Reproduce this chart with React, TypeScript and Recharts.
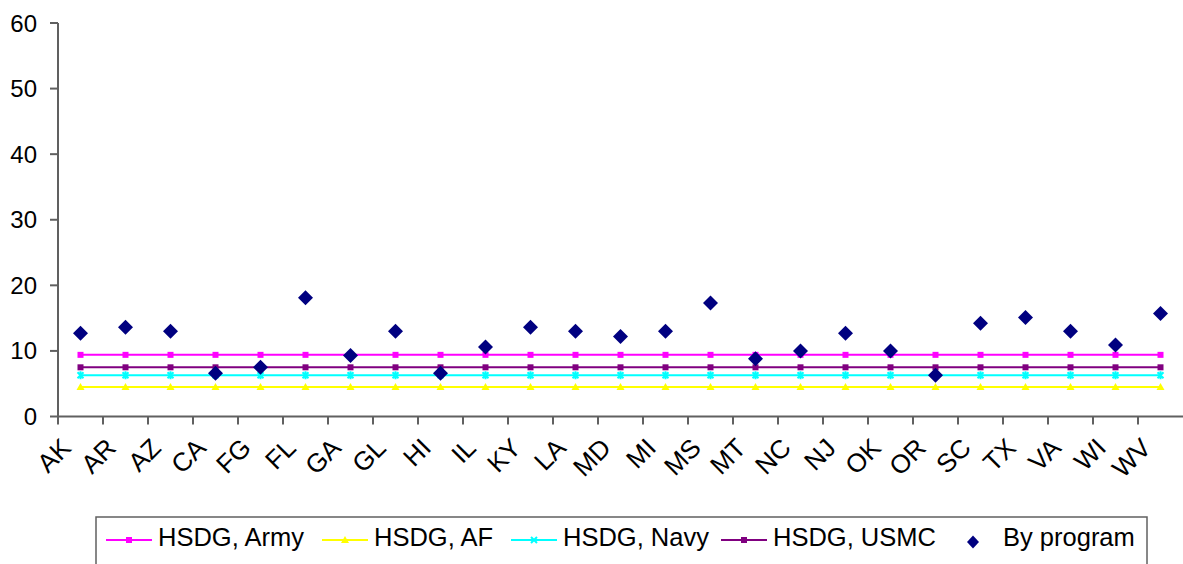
import React from 'react';
import { ComposedChart, Line, XAxis, YAxis, Legend } from 'recharts';

const categories = ['AK', 'AR', 'AZ', 'CA', 'FG', 'FL', 'GA', 'GL', 'HI', 'IL', 'KY', 'LA', 'MD', 'MI', 'MS', 'MT', 'NC', 'NJ', 'OK', 'OR', 'SC', 'TX', 'VA', 'WI', 'WV'];
const hsdgArmy = [9.4, 9.4, 9.4, 9.4, 9.4, 9.4, 9.4, 9.4, 9.4, 9.4, 9.4, 9.4, 9.4, 9.4, 9.4, 9.4, 9.4, 9.4, 9.4, 9.4, 9.4, 9.4, 9.4, 9.4, 9.4];
const hsdgAF = [4.5, 4.5, 4.5, 4.5, 4.5, 4.5, 4.5, 4.5, 4.5, 4.5, 4.5, 4.5, 4.5, 4.5, 4.5, 4.5, 4.5, 4.5, 4.5, 4.5, 4.5, 4.5, 4.5, 4.5, 4.5];
const hsdgNavy = [6.3, 6.3, 6.3, 6.3, 6.3, 6.3, 6.3, 6.3, 6.3, 6.3, 6.3, 6.3, 6.3, 6.3, 6.3, 6.3, 6.3, 6.3, 6.3, 6.3, 6.3, 6.3, 6.3, 6.3, 6.3];
const hsdgUSMC = [7.5, 7.5, 7.5, 7.5, 7.5, 7.5, 7.5, 7.5, 7.5, 7.5, 7.5, 7.5, 7.5, 7.5, 7.5, 7.5, 7.5, 7.5, 7.5, 7.5, 7.5, 7.5, 7.5, 7.5, 7.5];
const byProgram = [12.7, 13.6, 13.0, 6.6, 7.5, 18.1, 9.3, 13.0, 6.6, 10.6, 13.6, 13.0, 12.2, 13.0, 17.3, 8.8, 10.0, 12.7, 10.0, 6.3, 14.2, 15.1, 13.0, 10.9, 15.7];
const yTicks = [0, 10, 20, 30, 40, 50, 60];

const data = categories.map((state, i) => ({
  state,
  army: hsdgArmy[i],
  af: hsdgAF[i],
  navy: hsdgNavy[i],
  usmc: hsdgUSMC[i],
  program: byProgram[i],
}));

const FONT = '"Liberation Sans", Arial, sans-serif';
const AXIS = '#606060';

const SquareDot = (color: string) => (p: any) => {
  if (p.cx == null || p.cy == null) return null;
  return <rect key={p.index} x={p.cx - 3} y={p.cy - 3} width={6} height={6} fill={color} />;
};

const TriangleDot = (color: string) => (p: any) => {
  if (p.cx == null || p.cy == null) return null;
  const { cx, cy } = p;
  return <path key={p.index} d={`M${cx},${cy - 4}L${cx + 4},${cy + 3}L${cx - 4},${cy + 3}Z`} fill={color} />;
};

const StarDot = (color: string) => (p: any) => {
  if (p.cx == null || p.cy == null) return null;
  const { cx, cy } = p;
  return (
    <path
      key={p.index}
      d={`M${cx - 3},${cy - 3}L${cx + 3},${cy + 3}M${cx + 3},${cy - 3}L${cx - 3},${cy + 3}M${cx},${cy - 4}L${cx},${cy + 4}`}
      stroke={color}
      strokeWidth={2}
      fill="none"
    />
  );
};

const DiamondDot = (p: any) => {
  if (p.cx == null || p.cy == null) return null;
  const { cx, cy } = p;
  return <path key={p.index} d={`M${cx},${cy - 7.5}L${cx + 7.5},${cy}L${cx},${cy + 7.5}L${cx - 7.5},${cy}Z`} fill="#000080" />;
};

// Category label rotated 45°, plus a tick mark at the left edge of each band
const StateTick = (props: any) => {
  const { x, y, payload } = props;
  const half = payload && payload.offset ? payload.offset : 22.5;
  const axisY = y - 8;
  return (
    <g>
      <line x1={x - half} y1={axisY} x2={x - half} y2={axisY + 8} stroke={AXIS} strokeWidth={2} />
      <g transform={`translate(${x - 8},${y + 25})`}>
        <text x={0} y={0} transform="rotate(-45)" textAnchor="end" fontSize={26} fontFamily={FONT} fill="#000">
          {payload.value}
        </text>
      </g>
    </g>
  );
};

const legendItems = [
  { label: 'HSDG, Army', color: '#FF00FF', marker: 'square', lineX: 106, textX: 158 },
  { label: 'HSDG, AF', color: '#FFFF00', marker: 'triangle', lineX: 322, textX: 374 },
  { label: 'HSDG, Navy', color: '#00FFFF', marker: 'star', lineX: 511, textX: 563 },
  { label: 'HSDG, USMC', color: '#800080', marker: 'square', lineX: 721, textX: 773 },
  { label: 'By program', color: '#000080', marker: 'diamond', lineX: 973, textX: 1003 },
];

const LEGEND_LEFT = 95;
const LEGEND_TOP = 516;

const LegendBox = () => (
  <svg width={1054} height={52} style={{ display: 'block' }}>
    <rect x={1} y={1} width={1051} height={60} fill="#fff" stroke={AXIS} strokeWidth={1.5} />
    {legendItems.map((it) => {
      const ox = -LEGEND_LEFT;
      const cy = 540 - LEGEND_TOP;
      let sample: React.ReactNode = null;
      if (it.marker === 'diamond') {
        const cx = it.lineX + ox;
        const dy = cy + 2;
        sample = <path d={`M${cx},${dy - 6.5}L${cx + 6},${dy}L${cx},${dy + 6.5}L${cx - 6},${dy}Z`} fill={it.color} />;
      } else {
        const x1 = it.lineX + ox;
        const x2 = x1 + 46;
        const mx = (x1 + x2) / 2;
        let m: React.ReactNode = null;
        if (it.marker === 'square') m = <rect x={mx - 3} y={cy - 3} width={6} height={6} fill={it.color} />;
        if (it.marker === 'triangle') m = <path d={`M${mx},${cy - 4}L${mx + 4},${cy + 3}L${mx - 4},${cy + 3}Z`} fill={it.color} />;
        if (it.marker === 'star')
          m = (
            <path
              d={`M${mx - 3},${cy - 3}L${mx + 3},${cy + 3}M${mx + 3},${cy - 3}L${mx - 3},${cy + 3}`}
              stroke={it.color}
              strokeWidth={2}
            />
          );
        sample = (
          <g>
            <line x1={x1} y1={cy} x2={x2} y2={cy} stroke={it.color} strokeWidth={2} />
            {m}
          </g>
        );
      }
      return (
        <g key={it.label}>
          {sample}
          <text x={it.textX + ox} y={546 - LEGEND_TOP} fontSize={25.5} fontFamily={FONT} fill="#000">
            {it.label}
          </text>
        </g>
      );
    })}
  </svg>
);

export default function App() {
  return (
    <div style={{ position: 'absolute', left: 0, top: 0, width: 1183, height: 564, background: '#fff', overflow: 'hidden' }}>
      <ComposedChart width={1183} height={564} data={data} margin={{ top: 23, right: 0, bottom: 0, left: 0 }}>
        <XAxis
          dataKey="state"
          type="category"
          scale="band"
          interval={0}
          height={147.5}
          tickSize={8}
          tickMargin={0}
          tickLine={false}
          axisLine={{ stroke: AXIS, strokeWidth: 2 }}
          tick={<StateTick />}
        />
        <YAxis
          type="number"
          domain={[0, 60]}
          ticks={yTicks}
          width={58}
          tickSize={8}
          tickMargin={13}
          axisLine={{ stroke: AXIS, strokeWidth: 2 }}
          tickLine={{ stroke: AXIS, strokeWidth: 2 }}
          tick={{ fontSize: 24, fontFamily: FONT, fill: '#000' }}
        />
        <Line dataKey="army" stroke="#FF00FF" strokeWidth={2} dot={SquareDot('#FF00FF')} isAnimationActive={false} />
        <Line dataKey="af" stroke="#FFFF00" strokeWidth={2} dot={TriangleDot('#FFFF00')} isAnimationActive={false} />
        <Line dataKey="navy" stroke="#00FFFF" strokeWidth={2} dot={StarDot('#00FFFF')} isAnimationActive={false} />
        <Line dataKey="usmc" stroke="#800080" strokeWidth={2} dot={SquareDot('#800080')} isAnimationActive={false} />
        <Line dataKey="program" stroke="none" strokeWidth={0} dot={DiamondDot} activeDot={false} isAnimationActive={false} />
        <Legend
          verticalAlign="middle"
          layout="horizontal"
          content={() => <LegendBox />}
          wrapperStyle={{ position: 'absolute', left: LEGEND_LEFT, top: LEGEND_TOP, width: 1054, height: 52 }}
        />
      </ComposedChart>
    </div>
  );
}
